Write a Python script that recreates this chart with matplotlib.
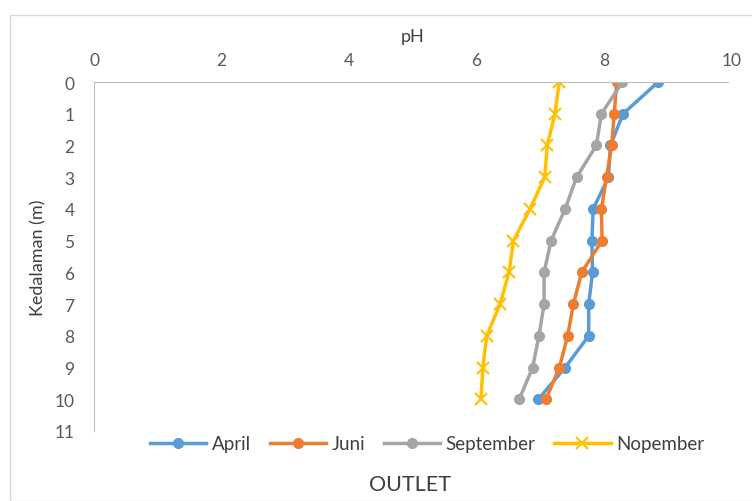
import matplotlib.pyplot as plt
from matplotlib.patches import Rectangle

plt.rcParams['font.family'] = ['Lato', 'DejaVu Sans']

# Data
kedalaman = [0, 1, 2, 3, 4, 5, 6, 7, 8, 9, 10]
april = [8.85, 8.30, 8.10, 8.07, 7.83, 7.81, 7.82, 7.76, 7.76, 7.39, 6.97]
juni = [8.20, 8.16, 8.12, 8.04, 7.96, 7.97, 7.65, 7.52, 7.43, 7.30, 7.09]
september = [8.29, 7.96, 7.88, 7.57, 7.39, 7.17, 7.06, 7.06, 6.98, 6.88, 6.67]
nopember = [7.30, 7.23, 7.11, 7.07, 6.84, 6.58, 6.51, 6.37, 6.16, 6.10, 6.07]

seri = [
    ('April', april, '#5B9BD5', 'o'),
    ('Juni', juni, '#ED7D31', 'o'),
    ('September', september, '#A5A5A5', 'o'),
    ('Nopember', nopember, '#FFC000', 'x'),
]

teks = '#404040'

fig = plt.figure(figsize=(7.52, 5.02), dpi=100)
# bingkai area grafik
fig.patches.append(Rectangle((10 / 752, 0), 1, 1 - 16 / 502, transform=fig.transFigure,
                             fill=False, edgecolor='#D9D9D9', linewidth=1))

ax = fig.add_axes([94 / 752, 1 - 432 / 502, (731.5 - 94) / 752, (432 - 83) / 502])

for nama, nilai, warna, mk in seri:
    if mk == 'x':
        ax.plot(nilai, kedalaman, color=warna, lw=2.5, marker='x', ms=8, mew=1.5, label=nama)
    else:
        ax.plot(nilai, kedalaman, color=warna, lw=2.5, marker='o', ms=7, label=nama)

ax.set_xlim(0, 10)
ax.set_ylim(11, 0)
ax.set_xticks([0, 2, 4, 6, 8, 10])
ax.set_yticks(kedalaman + [11])
ax.xaxis.tick_top()
ax.xaxis.set_label_position('top')
ax.tick_params(length=0, labelsize=12.5, colors='#595959')
ax.tick_params(axis='x', pad=10)
ax.tick_params(axis='y', pad=14)
for s in ['right', 'bottom']:
    ax.spines[s].set_visible(False)
ax.spines['top'].set_color('#BFBFBF')
ax.spines['left'].set_color('#BFBFBF')
ax.spines['top'].set_bounds(0, 9.95)

ax.set_xlabel('pH', fontsize=13, color=teks, labelpad=8)
ax.set_ylabel('Kedalaman (m)', fontsize=13, color=teks, labelpad=6)

fig.legend(loc='center', bbox_to_anchor=(427 / 752, 1 - 445 / 502), ncol=4, frameon=False,
           fontsize=13.5, handlelength=3, columnspacing=1.0, handletextpad=0.3, labelcolor=teks)
fig.text(410 / 752, 1 - 485 / 502, 'OUTLET', ha='center', va='center', fontsize=15.5, color=teks)

fig.savefig('out.png', dpi=100)
